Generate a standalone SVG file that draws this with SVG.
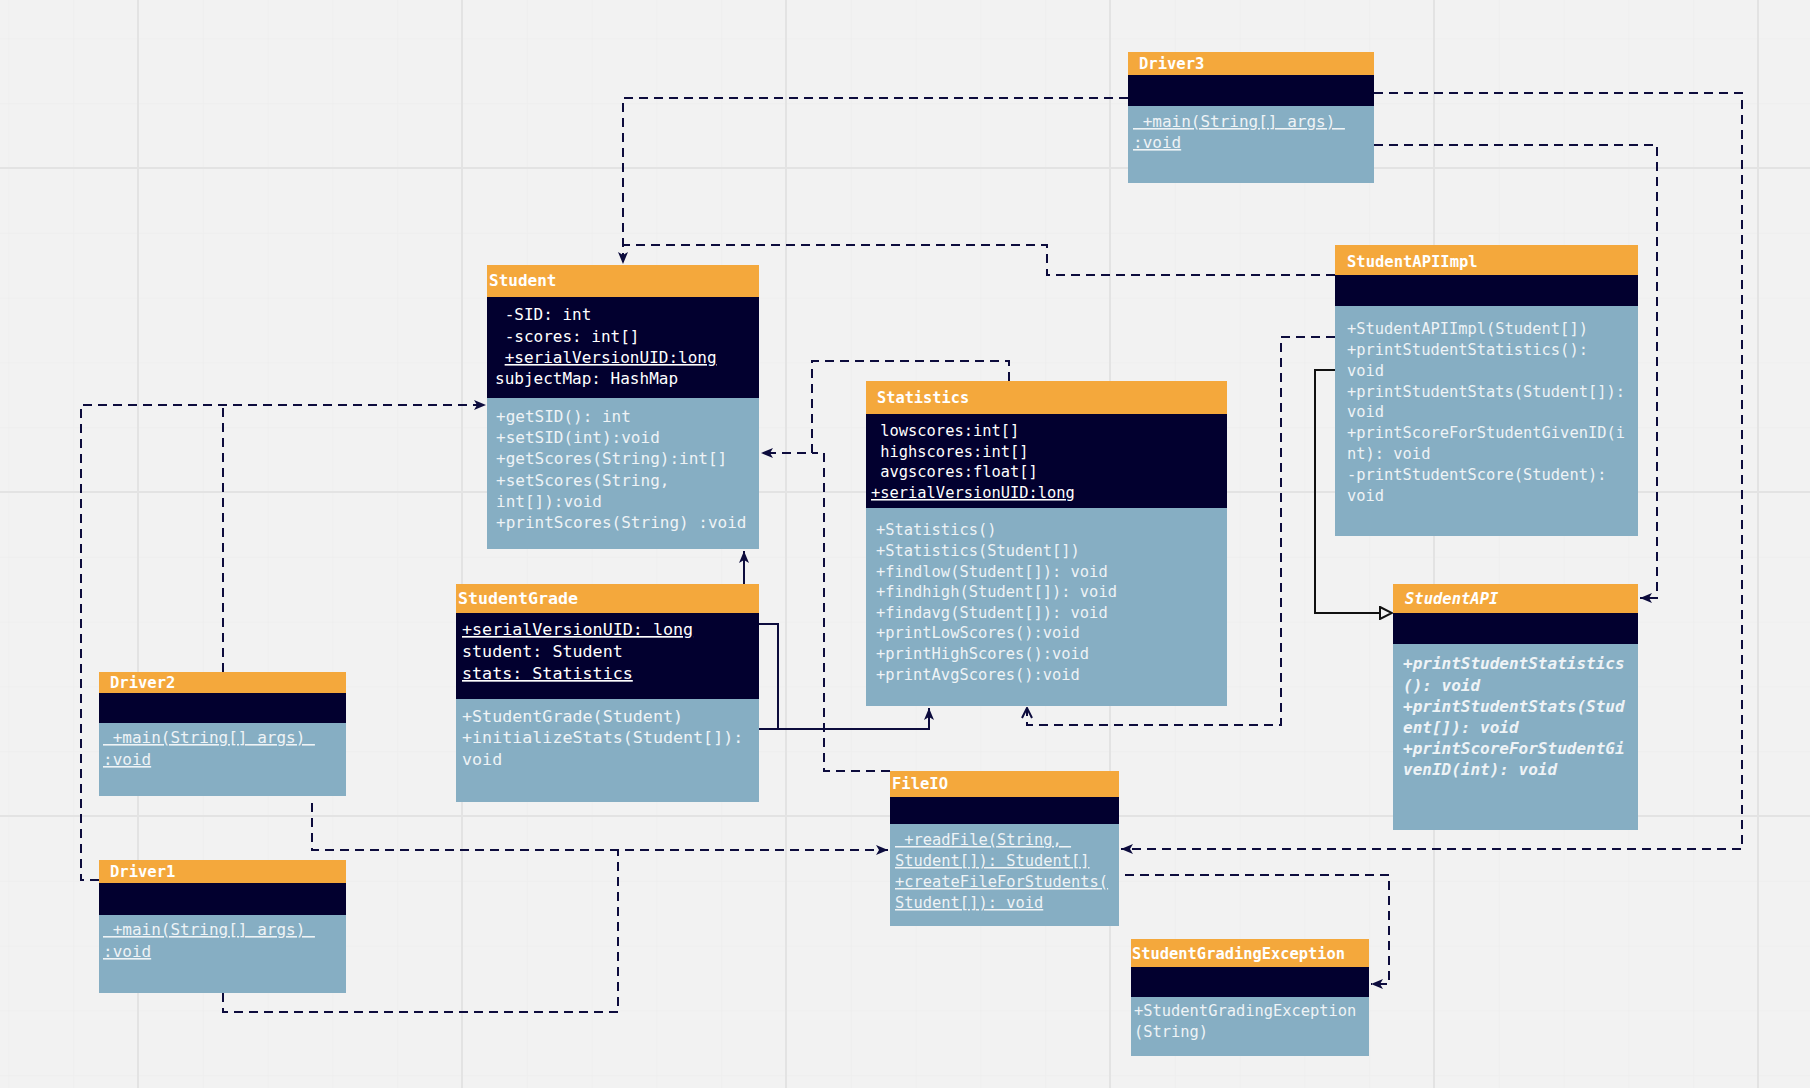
<svg xmlns="http://www.w3.org/2000/svg" width="1810" height="1088" viewBox="0 0 1810 1088">
  <style>
    text { font-family: "DejaVu Sans Mono", "Liberation Mono", monospace; white-space: pre; }
    .hd { fill: #f4a83c; }
    .dk { fill: #02002f; }
    .bd { fill: #86aec3; }
    .t { fill: #ffffff; font-weight: bold; }
    .a { fill: #ffffff; }
    .m { fill: #eef3f6; }
    .u { text-decoration: underline; }
    .i { font-style: italic; font-weight: bold; }
    .dash { fill: none; stroke: #0d0c3d; stroke-width: 2; stroke-dasharray: 9 6; }
    .solid { fill: none; stroke: #0d0c3d; stroke-width: 2; }
    .minor { stroke: #ebebeb; stroke-width: 1; }
    .major { stroke: #e3e3e3; stroke-width: 2; }
  </style>
  <defs>
    <marker id="arrowF" viewBox="0 0 12 10" refX="12" refY="5" markerWidth="12" markerHeight="10" markerUnits="userSpaceOnUse" orient="auto">
      <path d="M0,0 L12,5 L0,10 L3,5 z" fill="#0d0c3d"/>
    </marker>
    <marker id="arrowO" viewBox="0 0 12 12" refX="11" refY="6" markerWidth="12" markerHeight="12" markerUnits="userSpaceOnUse" orient="auto">
      <path d="M1,1 L11,6 L1,11" fill="none" stroke="#0d0c3d" stroke-width="2"/>
    </marker>
    <marker id="tri" viewBox="0 0 14 14" refX="13" refY="7" markerWidth="14" markerHeight="14" markerUnits="userSpaceOnUse" orient="auto">
      <path d="M1,1 L13,7 L1,13 z" fill="#f2f2f2" stroke="#111111" stroke-width="2"/>
    </marker>
    <pattern id="minorGrid" x="138" y="168" width="64.8" height="64.8" patternUnits="userSpaceOnUse">
      <path d="M0,0 V64.8 M0,0 H64.8" class="minor"/>
    </pattern>
  </defs>

  <!-- canvas and grid -->
  <rect width="1810" height="1088" fill="#f2f2f2"/>
  <rect width="1810" height="1088" fill="url(#minorGrid)"/>
  <g id="grid">
    <path class="major" d="M138,0 V1088 M462,0 V1088 M786,0 V1088 M1110,0 V1088 M1434,0 V1088 M1758,0 V1088 M0,168 H1810 M0,492 H1810 M0,816 H1810"/>
  </g>

  <!-- connectors -->
  <g id="connectors">
    <path class="dash" d="M1128,98 H623 V264" marker-end="url(#arrowF)"/>
    <path class="dash" d="M1335,275 H1047 V245 H623"/>
    <path class="dash" d="M1009,381 V361 H812 V453 H761" marker-end="url(#arrowF)"/>
    <path class="dash" d="M890,771 H824 V453 H812"/>
    <path class="solid" d="M744,613 V551" marker-end="url(#arrowF)"/>
    <path class="solid" d="M759,624 H778 V729 H759"/>
    <path class="solid" d="M759,729 H929 V708" marker-end="url(#arrowF)"/>
    <path class="dash" d="M1335,337 H1281 V725 H1027 V708" marker-end="url(#arrowO)"/>
    <path class="solid" style="stroke:#111111" d="M1335,370 H1315 V613 H1392" marker-end="url(#tri)"/>
    <path class="dash" d="M1374,93 H1742 V849 H1121" marker-end="url(#arrowF)"/>
    <path class="dash" d="M1374,145 H1657 V598 H1640" marker-end="url(#arrowF)"/>
    <path class="dash" d="M1125,875 H1389 V984 H1371" marker-end="url(#arrowF)"/>
    <path class="dash" d="M99,880 H81 V405 H486" marker-end="url(#arrowF)"/>
    <path class="dash" d="M223,672 V405"/>
    <path class="dash" d="M312,803 V850 H888" marker-end="url(#arrowF)"/>
    <path class="dash" d="M223,993 V1012 H618 V850"/>
  </g>

  <!-- Driver3 -->
  <g id="Driver3">
    <rect class="hd" x="1128" y="52" width="246" height="23"/>
    <rect class="dk" x="1128" y="75" width="246" height="31"/>
    <rect class="bd" x="1128" y="106" width="246" height="77"/>
    <text class="t" x="1139" y="69" font-size="15.5">Driver3</text>
    <text class="m u" x="1133" y="127" font-size="16"> +main(String[] args) </text>
    <text class="m u" x="1133" y="148" font-size="16">:void</text>
  </g>

  <!-- Student -->
  <g id="Student">
    <rect class="hd" x="487" y="265" width="272" height="32"/>
    <rect class="dk" x="487" y="297" width="272" height="101"/>
    <rect class="bd" x="487" y="398" width="272" height="151"/>
    <text class="t" x="489" y="286" font-size="16">Student</text>
    <text class="a" x="495" y="320" font-size="16"> -SID: int</text>
    <text class="a" x="495" y="342" font-size="16"> -scores: int[]</text>
    <text class="a" x="495" y="363" font-size="16"> <tspan class="u">+serialVersionUID:long</tspan></text>
    <text class="a" x="495" y="384" font-size="16">subjectMap: HashMap</text>
    <text class="m" x="496" y="422" font-size="16">+getSID(): int</text>
    <text class="m" x="496" y="443" font-size="16">+setSID(int):void</text>
    <text class="m" x="496" y="464" font-size="16">+getScores(String):int[]</text>
    <text class="m" x="496" y="486" font-size="16">+setScores(String,</text>
    <text class="m" x="496" y="507" font-size="16">int[]):void</text>
    <text class="m" x="496" y="528" font-size="16">+printScores(String) :void</text>
  </g>

  <!-- Statistics -->
  <g id="Statistics">
    <rect class="hd" x="866" y="381" width="361" height="33"/>
    <rect class="dk" x="866" y="414" width="361" height="94"/>
    <rect class="bd" x="866" y="508" width="361" height="198"/>
    <text class="t" x="877" y="403" font-size="15.3">Statistics</text>
    <text class="a" x="871" y="436" font-size="15.4"> lowscores:int[]</text>
    <text class="a" x="871" y="457" font-size="15.4"> highscores:int[]</text>
    <text class="a" x="871" y="477" font-size="15.4"> avgscores:float[]</text>
    <text class="a u" x="871" y="498" font-size="15.4">+serialVersionUID:long</text>
    <text class="m" x="876" y="535" font-size="15.4">+Statistics()</text>
    <text class="m" x="876" y="556" font-size="15.4">+Statistics(Student[])</text>
    <text class="m" x="876" y="577" font-size="15.4">+findlow(Student[]): void</text>
    <text class="m" x="876" y="597" font-size="15.4">+findhigh(Student[]): void</text>
    <text class="m" x="876" y="618" font-size="15.4">+findavg(Student[]): void</text>
    <text class="m" x="876" y="638" font-size="15.4">+printLowScores():void</text>
    <text class="m" x="876" y="659" font-size="15.4">+printHighScores():void</text>
    <text class="m" x="876" y="680" font-size="15.4">+printAvgScores():void</text>
  </g>

  <!-- StudentAPIImpl -->
  <g id="StudentAPIImpl">
    <rect class="hd" x="1335" y="245" width="303" height="30"/>
    <rect class="dk" x="1335" y="275" width="303" height="31"/>
    <rect class="bd" x="1335" y="306" width="303" height="230"/>
    <text class="t" x="1347" y="267" font-size="15.5">StudentAPIImpl</text>
    <text class="m" x="1347" y="334" font-size="15.4">+StudentAPIImpl(Student[])</text>
    <text class="m" x="1347" y="355" font-size="15.4">+printStudentStatistics():</text>
    <text class="m" x="1347" y="376" font-size="15.4">void</text>
    <text class="m" x="1347" y="397" font-size="15.4">+printStudentStats(Student[]):</text>
    <text class="m" x="1347" y="417" font-size="15.4">void</text>
    <text class="m" x="1347" y="438" font-size="15.4">+printScoreForStudentGivenID(i</text>
    <text class="m" x="1347" y="459" font-size="15.4">nt): void</text>
    <text class="m" x="1347" y="480" font-size="15.4">-printStudentScore(Student):</text>
    <text class="m" x="1347" y="501" font-size="15.4">void</text>
  </g>

  <!-- StudentAPI (interface) -->
  <g id="StudentAPI">
    <rect class="hd" x="1393" y="584" width="245" height="29"/>
    <rect class="dk" x="1393" y="613" width="245" height="31"/>
    <rect class="bd" x="1393" y="644" width="245" height="186"/>
    <text class="t i" x="1405" y="604" font-size="15.5">StudentAPI</text>
    <text class="m i" x="1403" y="669" font-size="16">+printStudentStatistics</text>
    <text class="m i" x="1403" y="691" font-size="16">(): void</text>
    <text class="m i" x="1403" y="712" font-size="16">+printStudentStats(Stud</text>
    <text class="m i" x="1403" y="733" font-size="16">ent[]): void</text>
    <text class="m i" x="1403" y="754" font-size="16">+printScoreForStudentGi</text>
    <text class="m i" x="1403" y="775" font-size="16">venID(int): void</text>
  </g>

  <!-- StudentGrade -->
  <g id="StudentGrade">
    <rect class="hd" x="456" y="584" width="303" height="29"/>
    <rect class="dk" x="456" y="613" width="303" height="86"/>
    <rect class="bd" x="456" y="699" width="303" height="103"/>
    <text class="t" x="458" y="604" font-size="16.6">StudentGrade</text>
    <text class="a u" x="462" y="635" font-size="16.7">+serialVersionUID: long</text>
    <text class="a" x="462" y="657" font-size="16.7">student: Student</text>
    <text class="a u" x="462" y="679" font-size="16.7">stats: Statistics</text>
    <text class="m" x="462" y="722" font-size="16.7">+StudentGrade(Student)</text>
    <text class="m" x="462" y="743" font-size="16.7">+initializeStats(Student[]):</text>
    <text class="m" x="462" y="765" font-size="16.7">void</text>
  </g>

  <!-- Driver2 -->
  <g id="Driver2">
    <rect class="hd" x="99" y="672" width="247" height="21"/>
    <rect class="dk" x="99" y="693" width="247" height="30"/>
    <rect class="bd" x="99" y="723" width="247" height="73"/>
    <text class="t" x="110" y="688" font-size="15.5">Driver2</text>
    <text class="m u" x="103" y="743" font-size="16"> +main(String[] args) </text>
    <text class="m u" x="103" y="765" font-size="16">:void</text>
  </g>

  <!-- Driver1 -->
  <g id="Driver1">
    <rect class="hd" x="99" y="860" width="247" height="23"/>
    <rect class="dk" x="99" y="883" width="247" height="32"/>
    <rect class="bd" x="99" y="915" width="247" height="78"/>
    <text class="t" x="110" y="877" font-size="15.5">Driver1</text>
    <text class="m u" x="103" y="935" font-size="16"> +main(String[] args) </text>
    <text class="m u" x="103" y="957" font-size="16">:void</text>
  </g>

  <!-- FileIO -->
  <g id="FileIO">
    <rect class="hd" x="890" y="771" width="229" height="26"/>
    <rect class="dk" x="890" y="797" width="229" height="27"/>
    <rect class="bd" x="890" y="824" width="229" height="102"/>
    <text class="t" x="892" y="789" font-size="15.5">FileIO</text>
    <text class="m u" x="895" y="845" font-size="15.4"> +readFile(String, </text>
    <text class="m u" x="895" y="866" font-size="15.4">Student[]): Student[]</text>
    <text class="m u" x="895" y="887" font-size="15.4">+createFileForStudents(</text>
    <text class="m u" x="895" y="908" font-size="15.4">Student[]): void</text>
  </g>

  <!-- StudentGradingException -->
  <g id="StudentGradingException">
    <rect class="hd" x="1131" y="939" width="238" height="28"/>
    <rect class="dk" x="1131" y="967" width="238" height="30"/>
    <rect class="bd" x="1131" y="997" width="238" height="59"/>
    <text class="t" x="1132" y="959" font-size="15.4">StudentGradingException</text>
    <text class="m" x="1134" y="1016" font-size="15.4">+StudentGradingException</text>
    <text class="m" x="1134" y="1037" font-size="15.4">(String)</text>
  </g>
</svg>
